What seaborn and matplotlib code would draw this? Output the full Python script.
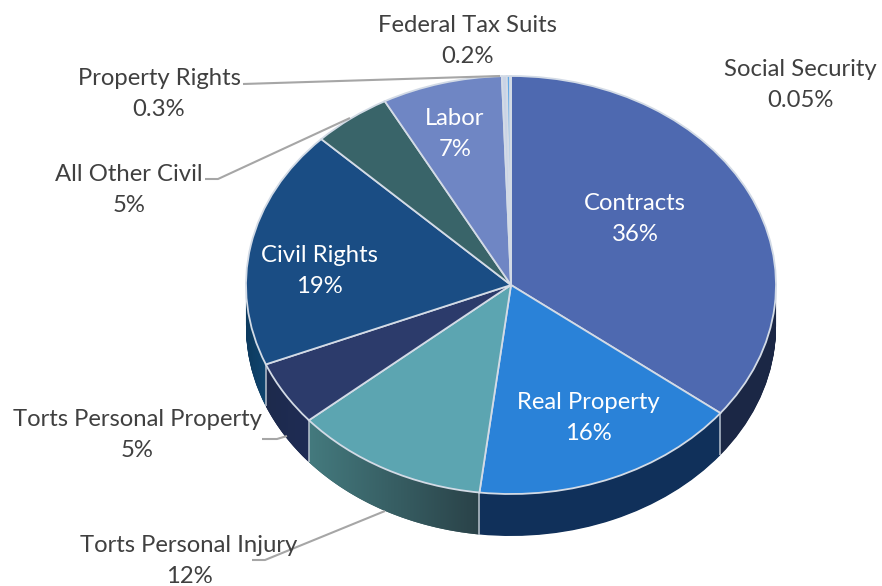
import numpy as np
import matplotlib
matplotlib.use("Agg")
import matplotlib.pyplot as plt
from matplotlib.colors import LinearSegmentedColormap
from matplotlib.patches import Polygon
import seaborn as sns

# values, labels as printed on the chart
categories = ["Contracts", "Real Property", "Torts Personal Injury", "Torts Personal Property",
              "Civil Rights", "All Other Civil", "Labor", "Property Rights",
              "Federal Tax Suits", "Social Security"]
shares = [35.5, 16.4, 11.9, 5, 18.5, 4.8, 7.35, 0.3, 0.2, 0.05]
share_labels = ["36%", "16%", "12%", "5%", "19%", "5%", "7%", "0.3%", "0.2%", "0.05%"]
top_colors = ["#4e69b0", "#2a82d8", "#5ca5b1", "#2c3b6b", "#1a4d84",
              "#396469", "#6f86c4", "#c9d3e6", "#62a8e5", "#d5dbe8"]
side_colors = ["#1b2745", "#10305a", "#35595f", "#1e2a50", "#0e3d63",
               "#26444a", "#3b4f80", "#5b8fc0", "#3b76ad", "#808890"]

# label centre in pixels of the reference
label_x = [635, 588, 189, 137, 319, 129, 455, 159, 467, 800]
label_y = [219, 418, 561, 435, 271, 190, 134, 94, 41, 85]
label_col = ["white", "white", "#404040", "#404040", "white", "#404040", "white", "#404040", "#404040", "#404040"]

# leader lines in pixels
leaders = [[(243, 84), (500, 76)],
           [(205, 179), (218, 179), (350, 118)],
           [(262, 439), (277, 439), (287, 436)],
           [(252, 560), (265, 560), (385, 511)]]

W, H = 882, 586
CX, CY, RX, RY = 511, 285, 265, 209
DEPTH = 42 / RY

sns.set_theme(style="white")
plt.rcParams["font.family"] = ["Lato", "DejaVu Sans"]

fig = plt.figure(figsize=(W / 100, H / 100), dpi=100)
ax = fig.add_axes([0, 0, 1, 1])
xlim = (-CX / RX, (W - CX) / RX)
ylim = ((CY - H) / RY, CY / RY)

# side wall: same pie stacked downwards
for d in np.linspace(DEPTH, 0, 60):
    ax.pie(shares, colors=side_colors, startangle=90, counterclock=False,
           center=(0, -d), radius=1, wedgeprops={"linewidth": 0, "zorder": 1})

# wedge edges clockwise from the top, in radians
frac = np.cumsum([0] + shares) / sum(shares)
theta = np.pi / 2 - frac * 2 * np.pi


def wall_poly(i):
    t = np.linspace(theta[i], theta[i + 1], 80)
    t = t[np.sin(t) < 0.0]
    upper = np.column_stack([np.cos(t), np.sin(t)])
    lower = upper[::-1] - [0, DEPTH]
    return np.vstack([upper, lower])


# gradient on the injury wall and a lighter one on the others
wall_grads = {2: ("#447a7e", "#2a4248"), 3: ("#1d2a4c", "#1f2c55"), 4: ("#0d3a5e", "#10456f")}
for i, (c0, c1) in wall_grads.items():
    poly = wall_poly(i)
    cmap = LinearSegmentedColormap.from_list("wall", [c0, c1])
    im = ax.imshow(np.linspace(0, 1, 200).reshape(1, -1), cmap=cmap, aspect="auto",
                   extent=(poly[:, 0].min(), poly[:, 0].max(), poly[:, 1].min(), poly[:, 1].max()),
                   zorder=1.5)
    clip = Polygon(poly, transform=ax.transData, facecolor="none", edgecolor="none")
    ax.add_patch(clip)
    im.set_clip_path(clip)

# vertical edges between wall pieces on the front of the pie
for i in range(1, 4 + 1):
    ax.plot([np.cos(theta[i])] * 2, [np.sin(theta[i]), np.sin(theta[i]) - DEPTH],
            color="#b9c3cf", lw=1.1, zorder=1.8, solid_capstyle="butt")

# top face
ax.pie(shares, colors=top_colors, startangle=90, counterclock=False, center=(0, 0), radius=1,
       wedgeprops={"linewidth": 1.3, "edgecolor": "#d3dbe6", "zorder": 2})

ax.set_aspect("auto")
ax.set_xlim(*xlim)
ax.set_ylim(*ylim)
ax.axis("off")

# overlay in reference pixels for the labels and leader lines
tx = fig.add_axes([0, 0, 1, 1], facecolor="none")
tx.set_xlim(0, W)
tx.set_ylim(H, 0)
tx.axis("off")

for pts in leaders:
    xs, ys = zip(*pts)
    tx.plot(xs, ys, color="#a6a6a6", lw=1.5, solid_capstyle="butt")

for name, pct, x, y, col in zip(categories, share_labels, label_x, label_y, label_col):
    tx.text(x, y, f"{name}\n{pct}", ha="center", va="center", color=col,
            fontsize=17.2, linespacing=1.6)

fig.savefig("out.png", dpi=100)
